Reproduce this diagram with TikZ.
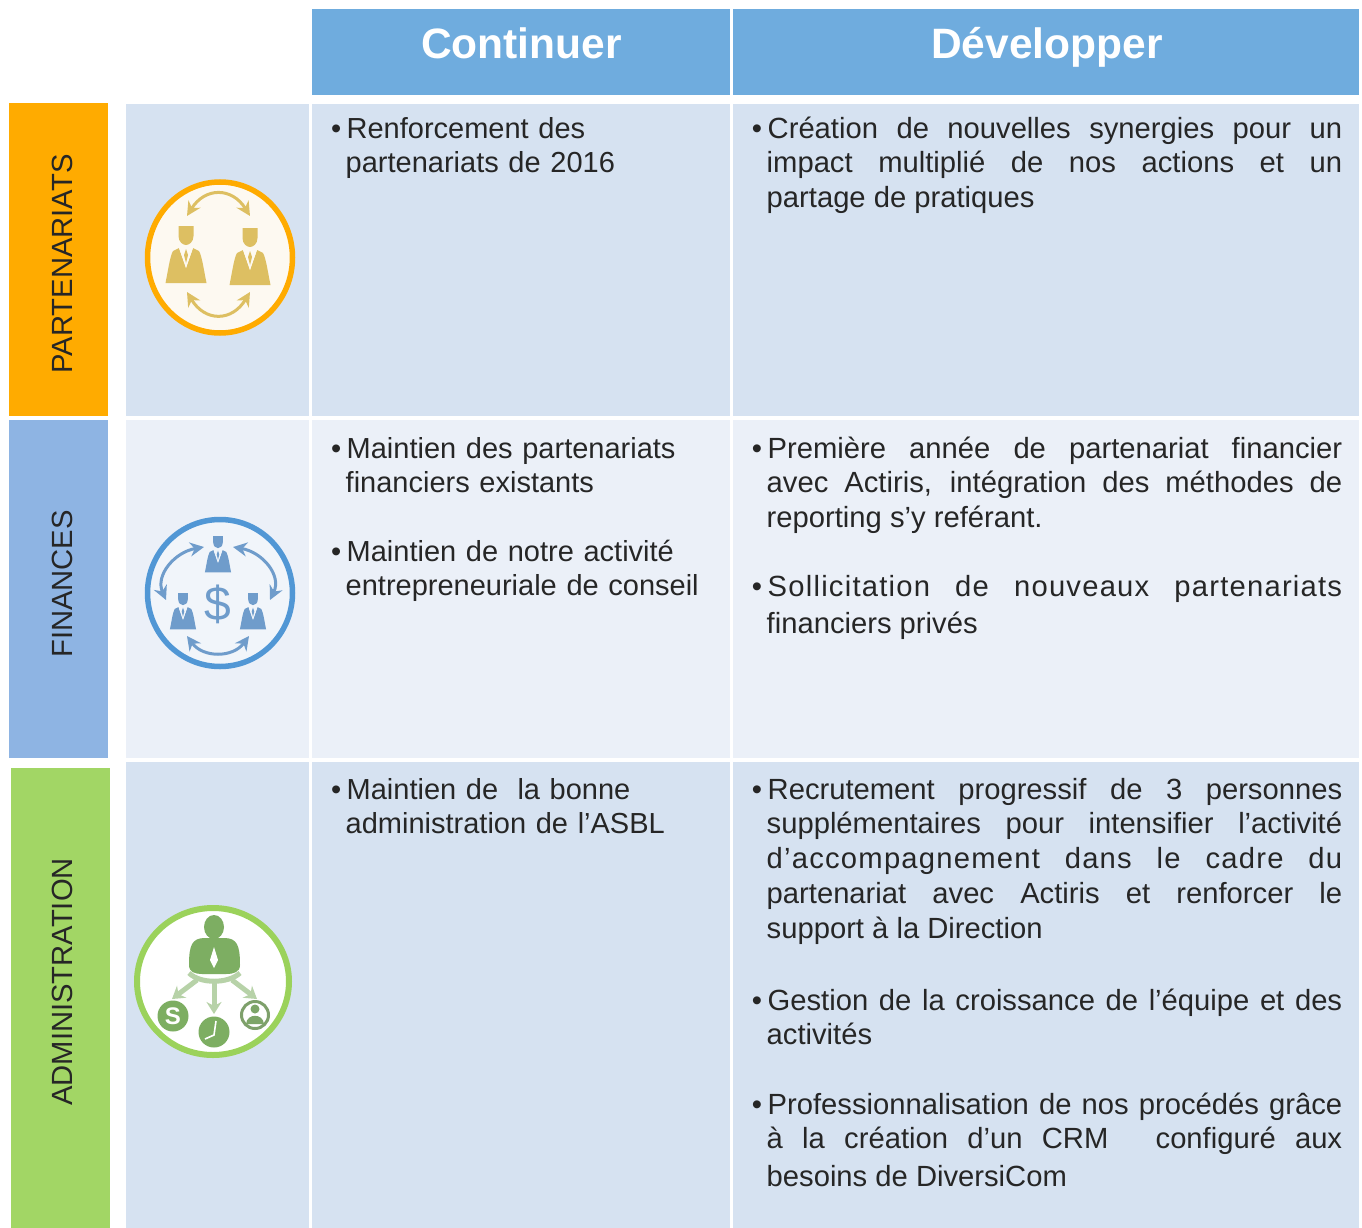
\documentclass[tikz,border=0pt]{standalone}
\usepackage{fontspec}
\setmainfont{Liberation Sans}
\usetikzlibrary{arrows.meta}
\definecolor{hdr}{HTML}{6FACDE}
\definecolor{rowa}{HTML}{D6E2F1}
\definecolor{rowb}{HTML}{EBF0F8}
\definecolor{taborange}{HTML}{FFAB00}
\definecolor{tabblue}{HTML}{8EB4E3}
\definecolor{tabgreen}{HTML}{A2D665}
\definecolor{ink}{HTML}{262626}
\definecolor{goldi}{HTML}{DDBF62}
\definecolor{goldbg}{HTML}{FDF9F1}
\definecolor{bluei}{HTML}{6F9CCB}
\definecolor{bluebg}{HTML}{F1F5FA}
\definecolor{greeni}{HTML}{7DAE62}
\definecolor{greenl}{HTML}{B7D2A8}
\definecolor{ringb}{HTML}{5197D5}
\definecolor{ringg}{HTML}{9BD25B}
\tikzset{
  headcell/.style={fill=hdr,anchor=north west,inner sep=0pt},
  headtext/.style={anchor=base,inner sep=0pt,text=white,font=\fontsize{42.5}{50}\selectfont\bfseries},
  tabcell/.style={inner sep=0pt,anchor=north west},
  taglabel/.style={rotate=90,inner sep=0pt,text=ink,font=\fontsize{29.2}{34}\selectfont},
  item/.style={anchor=north west,inner sep=0pt,text width=#1,text=ink,font=\fontsize{29}{34.7}\selectfont},
  itemr/.style={anchor=north west,inner sep=0pt,text width=575.5pt,align=justify,text=ink,font=\fontsize{29.2}{34.7}\selectfont},
  arr/.style={line width=3pt,{Stealth[length=14pt,width=14pt]}-{Stealth[length=14pt,width=14pt]}},
  farr/.style={greenl,line width=5pt,-{Stealth[length=12pt,width=15pt]}},
}
\newcommand{\bul}{\rule{0pt}{22pt}\hspace{1pt}\llap{•\hspace{5.5pt}}}
\newcommand{\wide}[1]{{\addfontfeature{LetterSpace=4.2}#1}}
% person: #1 x, #2 top, #3 scale, #4 colour, #5 background
\newcommand{\personicon}[5]{%
  \begin{scope}[shift={(#1,#2)},x=#3pt,y=-#3pt]
    \fill[#4] (-7.5,0) -- (7.5,0) -- (7.5,10) .. controls (7.5,16) and (3,19) .. (0,19) .. controls (-3,19) and (-7.5,16) .. (-7.5,10) -- cycle;
    \fill[#4] (-7,22) -- (-13,25) .. controls (-16,30) and (-18,45) .. (-20.5,57) -- (20.5,57) .. controls (18,45) and (16,30) .. (13,25) -- (7,22) -- (0,42) -- cycle;
    \fill[#5] (-7,22) -- (7,22) -- (0,42) -- cycle;
    \fill[#4] (0,23) -- (2,29) -- (0,37) -- (-2,29) -- cycle;
  \end{scope}}
\begin{document}
\begin{tikzpicture}[x=1pt,y=-1pt]
\useasboundingbox (0,0) rectangle (1362,1228);
\fill[white] (0,0) rectangle (1362,1228);
% headers
\node[headcell,minimum width=418pt,minimum height=86pt] (hc) at (312,9) {};
\node[headcell,minimum width=626pt,minimum height=86pt] (hd) at (733,9) {};
\node[headtext] (hct) at (521.5,59) {Continuer};
\node[headtext] (hdt) at (1047,59) {Développer};
% tabs
\node[tabcell,fill=taborange,minimum width=99pt,minimum height=313pt] (ta) at (9,103) {};
\node[tabcell,fill=tabblue,minimum width=99pt,minimum height=338pt] (tb) at (9,420) {};
\node[tabcell,fill=tabgreen,minimum width=99pt,minimum height=460pt] (tc) at (11,768) {};
\node[taglabel] (la) at (62,264) {PARTENARIATS};
\node[taglabel] (lb) at (62,584) {FINANCES};
\node[taglabel] (lc) at (62,982) {ADMINISTRATION};
% table cells
\node[tabcell,fill=rowa,minimum width=183pt,minimum height=312pt] (a0) at (126,104) {};
\node[tabcell,fill=rowa,minimum width=418pt,minimum height=312pt] (a1) at (312,104) {};
\node[tabcell,fill=rowa,minimum width=626pt,minimum height=312pt] (a2) at (733,104) {};
\node[tabcell,fill=rowb,minimum width=183pt,minimum height=338pt] (b0) at (126,420) {};
\node[tabcell,fill=rowb,minimum width=418pt,minimum height=338pt] (b1) at (312,420) {};
\node[tabcell,fill=rowb,minimum width=626pt,minimum height=338pt] (b2) at (733,420) {};
\node[tabcell,fill=rowa,minimum width=183pt,minimum height=466pt] (c0) at (126,762) {};
\node[tabcell,fill=rowa,minimum width=418pt,minimum height=466pt] (c1) at (312,762) {};
\node[tabcell,fill=rowa,minimum width=626pt,minimum height=466pt] (c2) at (733,762) {};
% left column text
\node[item=375pt,align=left] (t1) at (345.5,116) {\bul Renforcement des\\partenariats de 2016};
\node[item=375pt,align=left] (t2) at (345.5,436) {\bul Maintien des partenariats\\financiers existants};
\node[item=375pt,align=left] (t3) at (345.5,539) {\bul Maintien de notre activité\\entrepreneuriale de conseil};
\node[item=375pt,align=left] (t4) at (345.5,777) {\bul Maintien de\ \ la bonne\\administration de l’ASBL};
% right column text
\node[itemr] (u1) at (766.5,116) {\bul Création de nouvelles synergies pour un\linebreak impact multiplié de nos actions et un\linebreak partage de pratiques};
\node[itemr] (u2) at (766.5,436) {\bul Première année de partenariat financier\linebreak avec Actiris, intégration des méthodes de\linebreak reporting s’y reférant.};
\node[itemr] (u3) at (766.5,574) {\bul \wide{Sollicitation de nouveaux partenariats}\vadjust{\vskip 2.5pt}\linebreak financiers privés};
\node[itemr] (u4) at (766.5,777) {\bul Recrutement progressif de 3 personnes\linebreak supplémentaires pour intensifier l’activité\linebreak \wide{d’accompagnement dans le cadre du}\linebreak partenariat avec Actiris et renforcer le\linebreak support à la Direction};
\node[itemr] (u5) at (766.5,988) {\bul Gestion de la croissance de l’équipe et des\linebreak activités};
\node[itemr] (u6) at (766.5,1092) {\bul Professionnalisation de nos procédés grâce\linebreak à la création d’un CRM\hspace{28pt} configuré aux\vadjust{\vskip 3pt}\linebreak besoins de DiversiCom};
% icon 1
\draw[taborange,line width=5.5pt,fill=goldbg] (220,257.5) ellipse [x radius=72.5pt,y radius=75.5pt];
\personicon{186}{226}{1}{goldi}{goldbg}
\personicon{250}{228}{1}{goldi}{goldbg}
\draw[goldi,arr] (187,216) .. controls (205,187) and (232,187) .. (250,216);
\draw[goldi,arr] (187,292) .. controls (205,322) and (232,322) .. (250,292);
% icon 2
\draw[ringb,line width=5.5pt,fill=bluebg] (220,593) ellipse [x radius=72.5pt,y radius=73.5pt];
\personicon{218}{536}{0.64}{bluei}{bluebg}
\personicon{183}{593}{0.64}{bluei}{bluebg}
\personicon{253}{593}{0.64}{bluei}{bluebg}
\node[inner sep=0pt,text=bluei,font=\fontsize{48}{48}\selectfont] (dollar) at (218,604) {\$};
\draw[bluei,arr] (204,547) .. controls (175,552) and (155,575) .. (166,600);
\draw[bluei,arr] (233,547) .. controls (262,552) and (282,575) .. (270,600);
\draw[bluei,arr] (187,636) .. controls (203,658) and (233,658) .. (249,636);
% icon 3
\draw[ringg,line width=6pt,fill=white] (213,981.5) ellipse [x radius=76pt,y radius=73.5pt];
\fill[greeni] (214,927) ellipse [x radius=10pt,y radius=12pt];
\fill[greeni] (189,965) .. controls (189,945) and (192,938) .. (205,938) -- (224,938) .. controls (237,938) and (240,945) .. (240,965) .. controls (240,972) and (234,974) .. (226,974) -- (202,974) .. controls (195,974) and (189,972) .. (189,965) -- cycle;
\fill[white] (214,947) -- (218,960) -- (214,968) -- (210,960) -- cycle;
\draw[greenl,line width=5pt] (189,973) .. controls (200,984) and (228,984) .. (240,973);
\draw[farr] (197,980) -- (172,999);
\draw[farr] (214,982) -- (214,1014);
\draw[farr] (232,980) -- (257,999);
\fill[greeni] (173,1016) circle [radius=15.5pt];
\node[inner sep=0pt,text=white,font=\fontsize{24}{24}\selectfont\bfseries] (ics) at (173,1016) {S};
\fill[greeni] (214,1032) circle [radius=15.5pt];
\draw[white,line width=1.6pt] (216,1021) -- (214,1035) -- (205,1039);
\draw[greeni!70!gray,line width=3pt,fill=white] (255,1015) circle [radius=13.5pt];
\fill[greeni!80!gray] (255,1009) circle [radius=4.5pt];
\fill[greeni!80!gray] (246,1024) .. controls (247,1013) and (263,1013) .. (264,1024) -- cycle;
\end{tikzpicture}
\end{document}
